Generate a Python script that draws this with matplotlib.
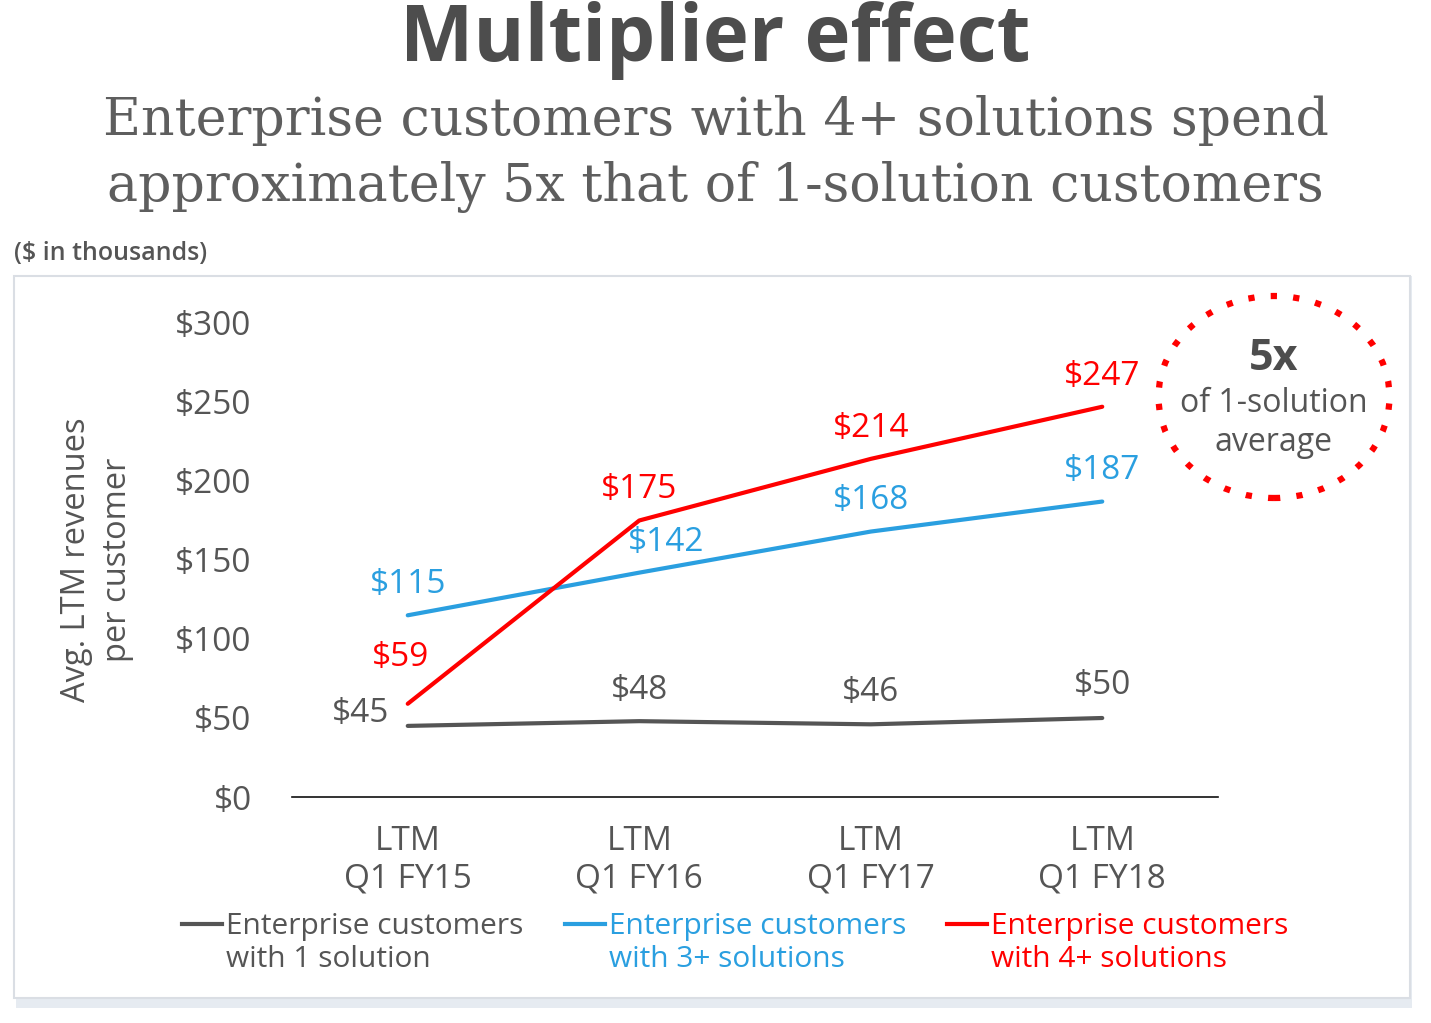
import matplotlib
matplotlib.use("Agg")
import matplotlib.pyplot as plt
from matplotlib.patches import Rectangle, Ellipse
from matplotlib.lines import Line2D

plt.rcParams['font.family'] = ['Open Sans', 'DejaVu Sans']

# data ($ in thousands)
periods = ["LTM\nQ1 FY15", "LTM\nQ1 FY16", "LTM\nQ1 FY17", "LTM\nQ1 FY18"]
one_solution = [45, 48, 46, 50]
three_plus = [115, 142, 168, 187]
four_plus = [59, 175, 214, 247]
series_names = ["Enterprise customers\nwith 1 solution",
                "Enterprise customers\nwith 3+ solutions",
                "Enterprise customers\nwith 4+ solutions"]

GRAY = '#555555'
BLUE = '#2a9fe0'
RED = '#ff0000'

fig = plt.figure(figsize=(14.31, 10.23), dpi=100)
W, H = 1431, 1023


def fx(px):
    return px / W


def fy(py):
    return 1 - py / H


# panel with shadow
fig.patches.append(Rectangle((fx(16), fy(1008)), fx(1396), (998 - 276) / H + 10 / H,
                             transform=fig.transFigure, facecolor='#e6ebf1', edgecolor='none', zorder=-2))
fig.patches.append(Rectangle((fx(14), fy(998)), fx(1396), (998 - 276) / H,
                             transform=fig.transFigure, facecolor='white', edgecolor='#dadee4',
                             linewidth=1.5, zorder=-1))

# titles
fig.text(0.5, fy(40), "Multiplier effect", ha='center', va='center', fontsize=56,
         fontweight='bold', color='#4d4d4d')
fig.text(0.5, fy(154), "Enterprise customers with 4+ solutions spend\napproximately 5x that of 1-solution customers",
         ha='center', va='center', fontsize=37.5, family='DejaVu Serif', color='#5e5e5e',
         linespacing=1.38)
fig.text(fx(14), fy(253), "($ in thousands)", ha='left', va='center', fontsize=18,
         fontweight='semibold', color='#555555')

ax = fig.add_axes([fx(292), fy(797), fx(1218 - 292), (797 - 323) / H])
ax.set_facecolor('none')
x = list(range(len(periods)))
ax.plot(x, one_solution, color=GRAY, lw=3, solid_capstyle='round')
ax.plot(x, three_plus, color=BLUE, lw=3, solid_capstyle='round')
ax.plot(x, four_plus, color=RED, lw=3, solid_capstyle='round')

ax.set_xlim(-0.5, 3.5)
ax.set_ylim(0, 300)
ax.set_yticks(range(0, 301, 50))
ax.set_yticklabels(["${}".format(v) for v in range(0, 301, 50)])
ax.set_xticks(x)
ax.set_xticklabels(periods, linespacing=1.2)
ax.tick_params(axis='y', length=0, pad=29, labelsize=24, labelcolor=GRAY)
ax.tick_params(axis='x', length=0, pad=20, labelsize=24, labelcolor=GRAY)
for s in ['top', 'right', 'left']:
    ax.spines[s].set_visible(False)
ax.spines['bottom'].set_linewidth(1.2)
ax.spines['bottom'].set_color('#111111')
ax.set_ylabel("Avg. LTM revenues\nper customer", fontsize=23.5, color=GRAY, labelpad=30,
              linespacing=1.3)

# value labels (pixel offsets)
offs_gray = [(-47, 12), (0, 31), (0, 32), (0, 32)]
offs_blue = [(0, 31), (27, 30), (0, 31), (0, 31)]
offs_red = [(-7, 46), (0, 31), (0, 30), (0, 30)]
for vals, offs, c in [(one_solution, offs_gray, GRAY), (three_plus, offs_blue, BLUE),
                      (four_plus, offs_red, RED)]:
    for i, v in enumerate(vals):
        ax.annotate("${}".format(v), (i, v), xytext=offs[i], textcoords='offset pixels',
                    ha='center', va='center', fontsize=24, color=c, fontweight='medium')

# callout circle
fig.patches.append(Ellipse((fx(1274), fy(397)), fx(231), 202 / H, transform=fig.transFigure,
                           fill=False, edgecolor=RED, linewidth=4.5, linestyle=(0, (1, 2.6)),
                           capstyle='butt'))
fig.text(fx(1274), fy(358), "5x", ha='center', va='center', fontsize=31, fontweight='bold',
         color='#4d4d4d')
fig.text(fx(1274), fy(423), "of 1-solution\naverage", ha='center', va='center', fontsize=23,
         color=GRAY, linespacing=1.25)

# legend
leg_x = [182, 565, 947]
for lx, name, c in zip(leg_x, series_names, [GRAY, BLUE, RED]):
    fig.lines.append(Line2D([fx(lx), fx(lx + 40)], [fy(924), fy(924)], transform=fig.transFigure,
                            color=c, lw=3))
    fig.text(fx(lx + 44), fy(943), name, ha='left', va='center', fontsize=21.5, color=c,
             fontweight='medium', linespacing=1.22)

plt.savefig("out.png", dpi=100)
plt.close()
